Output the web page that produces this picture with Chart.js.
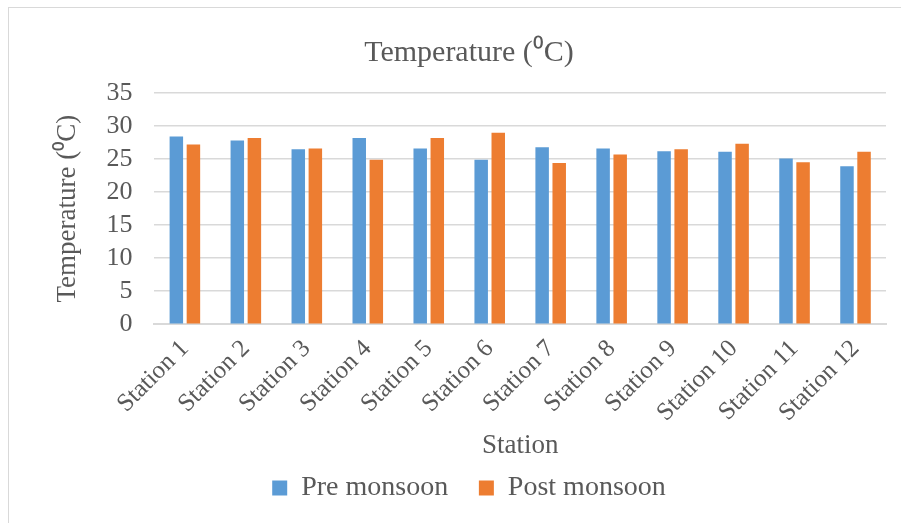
<!DOCTYPE html>
<html>
<head>
<meta charset="utf-8">
<script src="https://cdn.jsdelivr.net/npm/chart.js@4"></script>
<style>
  html, body { margin: 0; padding: 0; background: #fff; overflow: hidden; }
  #frame { position: absolute; left: 8px; top: 7px; width: 1000px; height: 600px; border: 1px solid #d9d9d9; }
  #wrap { position: absolute; left: 0; top: 0; width: 901px; height: 523px; }
</style>
</head>
<body>
<div id="frame"></div>
<div id="wrap"><canvas id="chart"></canvas></div>
<script>
const stations = ["Station 1", "Station 2", "Station 3", "Station 4", "Station 5", "Station 6",
                  "Station 7", "Station 8", "Station 9", "Station 10", "Station 11", "Station 12"];
const preMonsoon = [28.4, 27.8, 26.5, 28.2, 26.6, 24.9, 26.8, 26.6, 26.2, 26.1, 25.1, 23.9];
const postMonsoon = [27.2, 28.2, 26.6, 24.9, 28.2, 29.0, 24.4, 25.7, 26.5, 27.3, 24.5, 26.1];
const yTicks = [0, 5, 10, 15, 20, 25, 30, 35];

const serif = "'Liberation Serif', 'Times New Roman', serif";
const textColor = "#595959";
const gridColor = "#d9d9d9";

new Chart(document.getElementById("chart"), {
    type: "bar",
    data: {
        labels: stations,
        datasets: [
            {
                label: "Pre monsoon",
                data: preMonsoon,
                backgroundColor: "#5b9bd5",
                categoryPercentage: 0.56,
                barPercentage: 0.79,
            },
            {
                label: "Post monsoon",
                data: postMonsoon,
                backgroundColor: "#ed7d31",
                categoryPercentage: 0.56,
                barPercentage: 0.79,
            },
        ],
    },
    options: {
        responsive: true,
        maintainAspectRatio: false,
        animation: false,
        layout: { padding: { left: 52, right: 15, top: 35, bottom: 11 } },
        plugins: {
            title: {
                display: true,
                text: "Temperature (\u2070C)",
                color: textColor,
                font: { family: serif, size: 30, weight: "normal" },
                padding: { top: 0, bottom: 22 },
            },
            legend: {
                position: "bottom",
                labels: {
                    color: textColor,
                    font: { family: serif, size: 28 },
                    boxWidth: 15,
                    boxHeight: 15,
                    padding: 12,
                    // wider gap between the two entries, as in the original
                    generateLabels: (chart) => {
                        const items = Chart.defaults.plugins.legend.labels.generateLabels(chart);
                        items.forEach((item, i) => {
                            if (i < items.length - 1) item.text += "\u2002\u2006";
                        });
                        return items;
                    },
                },
            },
            tooltip: { enabled: false },
        },
        scales: {
            x: {
                grid: { display: false },
                border: { color: gridColor, width: 2 },
                ticks: {
                    color: textColor,
                    font: { family: serif, size: 25 },
                    minRotation: 45,
                    maxRotation: 45,
                    padding: 2,
                },
                title: {
                    display: true,
                    text: "Station",
                    color: textColor,
                    font: { family: serif, size: 27 },
                    padding: { top: 0, bottom: 0 },
                },
            },
            y: {
                min: 0,
                max: 35,
                afterBuildTicks: (axis) => { axis.ticks = yTicks.map((v) => ({ value: v })); },
                grid: { color: gridColor, lineWidth: 1.5, drawTicks: false },
                border: { display: false },
                ticks: {
                    color: textColor,
                    font: { family: serif, size: 26 },
                    padding: 22,
                    autoSkip: false,
                },
                title: {
                    display: true,
                    text: "Temperature (\u2070C)",
                    color: textColor,
                    font: { family: serif, size: 27 },
                    padding: { top: 0, bottom: 0 },
                },
            },
        },
    },
});
</script>
</body>
</html>
